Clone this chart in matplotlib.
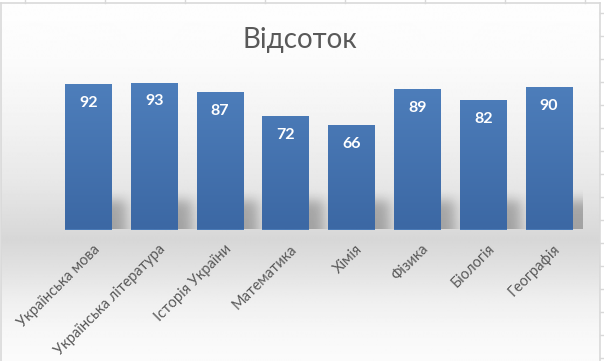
import numpy as np
import matplotlib

matplotlib.use("Agg")
import matplotlib.pyplot as plt
import matplotlib.transforms as mtransforms
from matplotlib.colors import LinearSegmentedColormap

categories = [
    "Українська мова",
    "Українська література",
    "Історія України",
    "Математика",
    "Хімія",
    "Фізика",
    "Біологія",
    "Географія",
]
values = [92, 93, 87, 72, 66, 89, 82, 90]
title = "Відсоток"

text_gray = "#595959"
border_gray = "#d9d9d9"
plt.rcParams["font.family"] = ["Lato", "DejaVu Sans"]

W, H = 604, 361
fig = plt.figure(figsize=(W / 100, H / 100), dpi=100)

# --- background layer in pixel coordinates (chart area + sheet grid bits)
bg = fig.add_axes([0, 0, 1, 1], zorder=0)
bg.set_xlim(0, W)
bg.set_ylim(H, 0)
bg.axis("off")

stops_y = [3, 60, 120, 180, 240, 270, 300, 330, 361]
stops_v = [254, 251, 243, 232, 215, 226, 239, 247, 251]
rows = np.arange(3, H + 1)
col = np.interp(rows, stops_y, stops_v) / 255.0
grad = np.repeat(col[:, None], 2, axis=1)
bg.imshow(grad, cmap="gray", vmin=0, vmax=1, extent=(1, 600, H, 3),
          origin="upper", aspect="auto", interpolation="bilinear")
bg.plot([1, 1], [3, H], color=border_gray, lw=1.2)
bg.plot([1, 600], [3, 3], color=border_gray, lw=1.2)
bg.plot([600, 600], [3, H], color=border_gray, lw=1.2)
for yy in np.arange(13, H, 23):
    bg.plot([600, 604], [yy, yy], color=border_gray, lw=1)
for xx in [24.6, 104.8, 185, 264.6, 344.8, 425, 504.6, 584.7]:
    bg.plot([xx, xx], [0, 3], color=border_gray, lw=1)

fig.text(300 / W, 1 - 48 / H, title, ha="center", va="baseline",
         fontsize=20, color=text_gray)

# --- plot area
ax = fig.add_axes([55.6 / W, 131.5 / H, 526.4 / W, 158 / H], zorder=1)
ax.set_facecolor("none")
x = np.arange(len(categories))
bw = 0.714

# soft shadow behind the bars
nx, ny = 800, 120
xs = np.linspace(-0.5, 7.5, nx)
ys = np.linspace(0, 45, ny)
X, Y = np.meshgrid(xs, ys)
mask = np.zeros_like(X)
for xi in x:
    mask[(X >= xi - bw / 2 + 0.2) & (X <= xi + bw / 2 + 0.2) & (Y <= 18)] = 1.0


def blur(a, sigma, axis):
    k = np.arange(-int(3 * sigma), int(3 * sigma) + 1)
    ker = np.exp(-k**2 / (2 * sigma**2))
    ker /= ker.sum()
    pad = len(k) // 2
    widths = [(0, 0), (0, 0)]
    widths[axis] = (pad, pad)
    ap = np.pad(a, widths, mode="edge")
    return np.apply_along_axis(lambda v: np.convolve(v, ker, mode="valid"), axis, ap)


mask = blur(mask, 9.0, 1)
mask = blur(mask, 9.0, 0)
shadow = np.zeros((ny, nx, 4))
shadow[..., 3] = mask * 0.26
ax.imshow(shadow, extent=(-0.5, 7.5, 0, 45), origin="lower",
          aspect="auto", zorder=1, interpolation="bilinear")

bars = ax.bar(x, values, width=bw, color="#4a7ab6", zorder=2)
bar_cmap = LinearSegmentedColormap.from_list("b", ["#3c68a4", "#4f80bd"])
gy = np.linspace(0, 1, 100)[:, None]
for b in bars:
    x0, w, h = b.get_x(), b.get_width(), b.get_height()
    im = ax.imshow(gy, cmap=bar_cmap, extent=(x0, x0 + w, 0, 100),
                   origin="lower", aspect="auto", zorder=3)
    im.set_clip_path(b)

for xi, v in zip(x, values):
    ax.annotate(str(v), (xi, v), xytext=(0, -8.5), textcoords="offset points",
                ha="center", va="top", color="white", fontsize=11.5,
                fontweight="bold", zorder=4)

ax.set_xlim(-0.5, 7.5)
ax.set_ylim(0, 100)
for s in ax.spines.values():
    s.set_visible(False)
ax.set_yticks([])
ax.set_xticks(x)
ax.set_xticklabels(categories, rotation=45, ha="right", rotation_mode="anchor",
                   color=text_gray, fontsize=10.5)
ax.tick_params(axis="x", length=0, pad=9)
shift = mtransforms.ScaledTranslation(4 / 100, 0, fig.dpi_scale_trans)
for lab in ax.get_xticklabels():
    lab.set_transform(lab.get_transform() + shift)

fig.savefig("out.png", dpi=100)
